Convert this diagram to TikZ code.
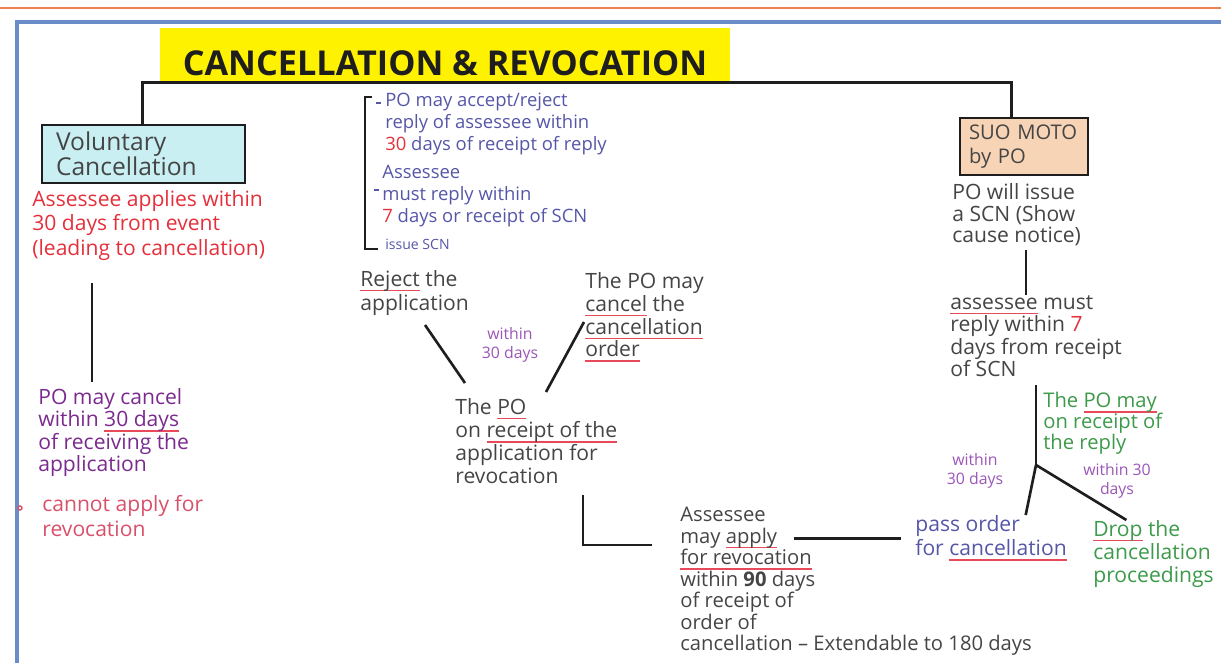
\documentclass[tikz,border=0pt]{standalone}
\usepackage{fontspec}
\setmainfont{Open Sans}
\definecolor{Ink}{HTML}{1E1E1E}
\definecolor{Pencil}{HTML}{454545}
\definecolor{RedInk}{HTML}{E5303C}
\definecolor{Plum}{HTML}{7B2A8E}
\definecolor{Pink}{HTML}{D9506A}
\definecolor{Slate}{HTML}{5656A8}
\definecolor{Lilac}{HTML}{9B55B8}
\definecolor{Leaf}{HTML}{3C9A4A}
\definecolor{Under}{HTML}{E84A5A}
\definecolor{Highlight}{HTML}{FFF200}
\definecolor{VolFill}{HTML}{C9EFF3}
\definecolor{SuoFill}{HTML}{F8D4B6}
\definecolor{Frame}{HTML}{6A8CC8}
\definecolor{TopRule}{HTML}{E98450}
\newsavebox{\ulbox}
\newcommand{\redul}[1]{\sbox{\ulbox}{#1}\rlap{\textcolor{Under}{\rule[-0.45ex]{\wd\ulbox}{0.9pt}}}\usebox{\ulbox}}
\tikzset{hand/.style={anchor=north west,align=left,inner sep=0pt,
    font=\fontsize{12}{14}\selectfont},
  bracket/.style={hand,font=\fontsize{10.5}{12.5}\selectfont,text=Slate},
  note/.style={align=center,inner sep=0pt,font=\fontsize{9}{10.5}\selectfont,text=Lilac},
  casebox/.style={draw=Ink,line width=1.6pt,align=left,inner sep=0pt,
    font=\fontsize{14}{14}\selectfont,text=Pencil},
  titletext/.style={inner sep=0pt,font=\fontsize{19.5}{22}\selectfont\bfseries,text=Ink},
  link/.style={draw=Ink,line width=1.5pt}}
\begin{document}
\begin{tikzpicture}[x=0.02cm,y=-0.02cm]
  \useasboundingbox (0,0) rectangle (1221,663);
  % page frame
  \draw[TopRule,line width=1pt] (0,8) -- (1221,8);
  \draw[Frame,line width=2.2pt] (17,663) -- (17,22) -- (1221,22);
  % title
  \fill[Highlight] (160,28) rectangle (730,82);
  \node[titletext] (title) at (445,63) {CANCELLATION \& REVOCATION};
  % two ways in
  \node[casebox,fill=VolFill,minimum width=4.06cm,minimum height=1.16cm,text width=3.5cm]
    (vol) at (143.5,154) {Voluntary\\Cancellation};
  \node[casebox,fill=SuoFill,minimum width=2.56cm,minimum height=1.14cm,text width=2.2cm,
    font=\fontsize{11.5}{14}\selectfont] (suo) at (1024,146.5) {SUO MOTO\\by PO};
  \draw[link] ([xshift=58]vol.north west) -- ++(0,-41) -| ([xshift=30]suo.north west);
  % voluntary side
  \node[hand,text=RedInk] (volapp) at (32,190)
    {Assessee applies within\\30 days from event\\(leading to cancellation)};
  \node[hand,text=Plum,font=\fontsize{12}{12.8}\selectfont] (pocancel) at (38,388)
    {PO may cancel\\within \redul{30 days}\\of receiving the\\application};
  \coordinate (volup) at (92,283);
  \coordinate (voldown) at (92,382);
  \draw[link] (volup) -- (voldown);
  \draw[Pink,line width=0.8pt] (20,508) circle (2);
  \node[hand,text=Pink] (cannot) at (42,495) {cannot apply for\\revocation};
  % steps of suo moto
  \draw[link,line width=1.2pt] (372,97) -- (365,97) -- (365,249) -- (378,249);
  \draw[Slate,line width=0.8pt] (376,103) -- (381,103) (374,190) -- (379,190);
  \node[bracket] (poacc) at (385,93)
    {PO may accept/reject\\reply of assessee within\\\textcolor{RedInk}{30} days of receipt of reply};
  \node[bracket] (assmust) at (382,165)
    {Assessee\\must reply within\\\textcolor{RedInk}{7} days or receipt of SCN};
  \node[bracket,font=\fontsize{8}{10}\selectfont] (issue) at (385,239) {issue SCN};
  % revocation
  \node[hand,text=Pencil] (reject) at (360,270) {\redul{Reject} the\\application};
  \node[hand,text=Pencil,font=\fontsize{12}{13}\selectfont] (maycancel) at (585,272)
    {The PO may\\\redul{cancel} the\\\redul{cancellation}\\\redul{order}};
  \node[note] (within1) at (510,345) {within\\30 days};
  \node[hand,text=Pencil,font=\fontsize{12}{13.2}\selectfont] (receipt) at (455,398)
    {The \redul{PO}\\on \redul{receipt of the}\\application for\\revocation};
  \coordinate (rjend) at (425,325);
  \coordinate (rjtip) at (465,383);
  \coordinate (mcend) at (584,322);
  \coordinate (mctip) at (546,392);
  \draw[link] (rjend) -- (rjtip);
  \draw[link] (mcend) -- (mctip);
  \node[hand,text=Pencil,font=\fontsize{11.5}{12.2}\selectfont] (apply) at (680,507)
    {Assessee\\may \redul{apply}\\\redul{for revocation}\\within \textbf{90} days\\of receipt of\\order of\\cancellation -- Extendable to 180 days};
  \coordinate (rcdown) at (583,495);
  \coordinate (rcend) at (652,545);
  \draw[link] (rcdown) |- (rcend);
  % suo moto side
  \node[hand,text=Pencil,font=\fontsize{12}{12.4}\selectfont] (scn) at (952,183)
    {PO will issue\\a SCN (Show\\cause notice)};
  \node[hand,text=Pencil,font=\fontsize{12}{12.8}\selectfont] (mustreply) at (950,295)
    {\redul{assessee} must\\reply within \textcolor{RedInk}{7}\\days from receipt\\of SCN};
  \coordinate (scndown) at (1026,250);
  \coordinate (mrup) at (1026,295);
  \draw[link] (scndown) -- (mrup);
  \node[hand,text=Leaf,font=\fontsize{11.5}{12}\selectfont] (reply) at (1043,392)
    {The \redul{PO may}\\on receipt of\\the reply};
  \coordinate (mrdown) at (1036,385);
  \coordinate (fork) at (1036,465);
  \draw[link] (mrdown) -- (fork);
  \node[note] (within2) at (975,471) {within\\30 days};
  \node[note] (within3) at (1117,481) {within 30\\days};
  \node[hand,text=Slate] (passorder) at (915,515) {pass order\\for \redul{cancellation}};
  \node[hand,text=Leaf,font=\fontsize{12}{13}\selectfont] (drop) at (1093,520)
    {\redul{Drop} the\\cancellation\\proceedings};
  \draw[link] (fork) -- ([xshift=63]passorder.north west);
  \draw[link] (fork) -- ([xshift=19]drop.north west);
  \draw[link] ([xshift=-8]passorder.west) -- ++(-107,0);
\end{tikzpicture}
\end{document}
